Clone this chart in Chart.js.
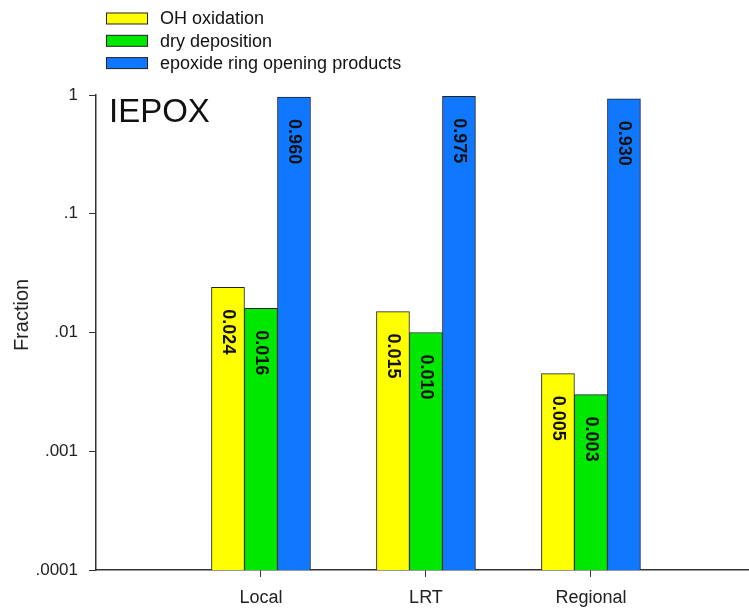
<!DOCTYPE html>
<html>
<head>
<meta charset="utf-8">
<script src="https://cdn.jsdelivr.net/npm/chart.js@4/dist/chart.umd.min.js"></script>
<style>
  html, body { margin:0; padding:0; background:#fff; }
  canvas { display:block; }
</style>
</head>
<body>
<canvas id="c" width="749" height="611"></canvas>
<script>
// data
const categories     = ["Local", "LRT", "Regional"];
const ohOxidation    = [0.024, 0.015, 0.0045];
const dryDeposition  = [0.016, 0.010, 0.0030];
const epoxideProds   = [0.960, 0.975, 0.930];
const ohLabels       = ["0.024", "0.015", "0.005"];
const dryLabels      = ["0.016", "0.010", "0.003"];
const epoxLabels     = ["0.960", "0.975", "0.930"];
const seriesNames    = ["OH oxidation", "dry deposition", "epoxide ring opening products"];
const yTickValues    = [0.0001, 0.001, 0.01, 0.1, 1];
const yTickLabels    = [".0001", ".001", ".01", ".1", "1"];

const FONT = "'Liberation Sans', Arial, sans-serif";
const colors = ["#FFFF00", "#00E800", "#0F78FF"];
const labelSets = [ohLabels, dryLabels, epoxLabels];

const toPoints = arr => arr.map((v, i) => ({ x: i + 1, y: v }));

// legend, panel title, y title, bar value labels
const extras = {
  id: "extras",
  afterDatasetsDraw(chart) {
    const c = chart.ctx;
    c.save();
    // bar values, rotated clockwise
    c.font = "bold 18px " + FONT;
    c.fillStyle = "#111";
    c.textAlign = "left";
    c.textBaseline = "middle";
    chart.data.datasets.forEach((ds, di) => {
      chart.getDatasetMeta(di).data.forEach((bar, i) => {
        c.save();
        c.translate(bar.x, bar.y + 22);
        c.rotate(Math.PI / 2);
        c.fillText(labelSets[di][i], 0, 0);
        c.restore();
      });
    });
    // panel title
    c.font = "33px " + FONT;
    c.textBaseline = "alphabetic";
    c.fillText("IEPOX", 109, 122);
    // y axis title
    c.save();
    c.translate(22, 315);
    c.rotate(-Math.PI / 2);
    c.font = "20px " + FONT;
    c.textAlign = "center";
    c.textBaseline = "middle";
    c.fillStyle = "#222";
    c.fillText("Fraction", 0, 0);
    c.restore();
    // legend
    c.font = "18px " + FONT;
    c.textAlign = "left";
    c.textBaseline = "middle";
    seriesNames.forEach((name, i) => {
      const cy = 18.5 + i * 22.3;
      c.fillStyle = colors[i];
      c.fillRect(106, cy - 5.5, 42, 11);
      c.strokeStyle = "#222";
      c.lineWidth = 1;
      c.strokeRect(106.5, cy - 5.5, 41, 11);
      c.fillStyle = "#111";
      c.fillText(name, 160, cy + 1);
    });
    c.restore();
  }
};

new Chart(document.getElementById("c"), {
  type: "bar",
  data: {
    datasets: [
      { label: seriesNames[0], data: toPoints(ohOxidation),   backgroundColor: colors[0] },
      { label: seriesNames[1], data: toPoints(dryDeposition), backgroundColor: colors[1] },
      { label: seriesNames[2], data: toPoints(epoxideProds),  backgroundColor: colors[2] }
    ]
  },
  options: {
    responsive: false,
    animation: false,
    layout: { padding: { top: 95, left: 0, right: 0, bottom: 0 } },
    datasets: { bar: { barThickness: 33, borderWidth: 1, borderColor: "#222", grouped: true } },
    plugins: { legend: { display: false }, tooltip: { enabled: false } },
    scales: {
      x: {
        type: "linear",
        min: 0, max: 3.958,
        offset: false,
        afterBuildTicks: s => { s.ticks = [1, 2, 3].map(v => ({ value: v })); },
        afterFit: s => { s.height = 41; },
        ticks: {
          callback: v => categories[v - 1] || "",
          font: { size: 18, family: FONT }, color: "#222", padding: 10, maxRotation: 0
        },
        grid: { drawOnChartArea: false, drawTicks: true, tickLength: 7, color: "#333", offset: false },
        border: { display: true, color: "#333", width: 1.5 }
      },
      y: {
        type: "logarithmic",
        min: 0.0001, max: 1,
        afterBuildTicks: s => { s.ticks = yTickValues.map(v => ({ value: v })); },
        afterFit: s => { s.width = 96; },
        ticks: {
          callback: v => yTickLabels[yTickValues.indexOf(v)] ?? "",
          font: { size: 17, family: FONT }, color: "#222", padding: 11
        },
        grid: { drawOnChartArea: false, drawTicks: true, tickLength: 7, color: "#333" },
        border: { display: true, color: "#333", width: 1.5 }
      }
    }
  },
  plugins: [extras]
});
</script>
</body>
</html>
